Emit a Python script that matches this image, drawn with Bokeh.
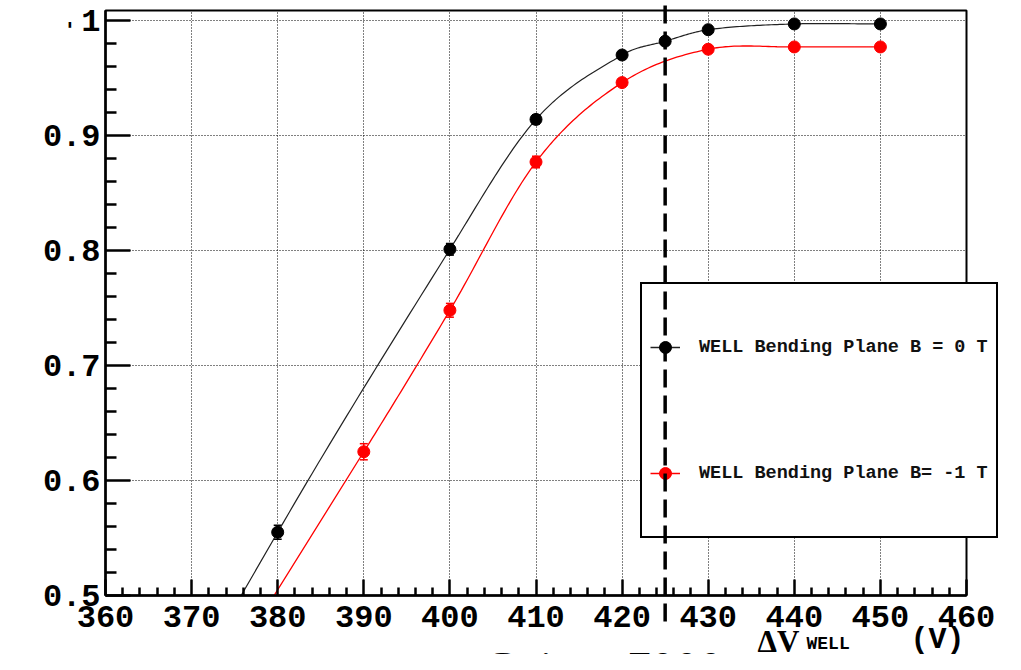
import numpy as np
from bokeh.plotting import figure
from bokeh.models import (Label, Legend, LegendItem, FixedTicker, Whisker,
                          ColumnDataSource, TeeHead, Range1d, GridBox)
from bokeh.embed import file_html
from bokeh.resources import INLINE

# ---- data ----
x_b0 = [380, 400, 410, 420, 425, 430, 440, 450]
y_b0 = [0.555, 0.801, 0.914, 0.970, 0.982, 0.992, 0.997, 0.997]
e_b0 = [0.006, 0.005, 0.004, 0.003, 0.003, 0.002, 0.002, 0.002]

x_b1 = [390, 400, 410, 420, 430, 440, 450]
y_b1 = [0.625, 0.748, 0.877, 0.946, 0.975, 0.977, 0.977]
e_b1 = [0.007, 0.006, 0.005, 0.003, 0.002, 0.002, 0.002]

label_b0 = "WELL Bending Plane B = 0 T"
label_b1 = "WELL Bending Plane B= -1 T"

x_ticks = [360, 370, 380, 390, 400, 410, 420, 430, 440, 450, 460]
y_ticks = [0.5, 0.6, 0.7, 0.8, 0.9, 1.0]
x_lim = (360, 460)
y_min = 0.5
marker_line = 425

MONO = "Liberation Mono"

# ---- layout geometry (pixels) ----
W, H = 1005, 654
FL, FR, FT, FB = 105, 966, 10, 595          # frame edges
PX_PER_Y = 1150.0                           # pixels per unit of y
PX_PER_X = (FR - FL) / (x_lim[1] - x_lim[0])
y_max = y_min + (FB - FT) / PX_PER_Y


def dx(px):
    return x_lim[0] + (px - FL) / PX_PER_X


def dy(py):
    return y_min + (FB - py) / PX_PER_Y


def smooth(xs, ys, y_floor=0.5, n=30):
    """Cubic Hermite path through the data points (line rendering only)."""
    xs = np.asarray(xs, float)
    ys = np.asarray(ys, float)
    k = len(xs)
    m = np.zeros(k)
    for i in range(1, k - 1):
        m[i] = (ys[i + 1] - ys[i - 1]) / (xs[i + 1] - xs[i - 1])
    d01 = (ys[1] - ys[0]) / (xs[1] - xs[0])
    d12 = (ys[2] - ys[1]) / (xs[2] - xs[1])
    dd = (d12 - d01) / (xs[2] - xs[0])
    m[0] = d01 + dd * (xs[0] - xs[1])
    m[-1] = (ys[-1] - ys[-2]) / (xs[-1] - xs[-2])
    px, py = [], []
    if m[0] > 0 and ys[0] > y_floor:
        px.append(xs[0] - (ys[0] - y_floor + 0.01) / m[0])
        py.append(y_floor - 0.01)
    for i in range(k - 1):
        h = xs[i + 1] - xs[i]
        t = np.linspace(0, 1, n, endpoint=False)
        h00 = 2 * t**3 - 3 * t**2 + 1
        h10 = t**3 - 2 * t**2 + t
        h01 = -2 * t**3 + 3 * t**2
        h11 = t**3 - t**2
        px.extend(xs[i] + t * h)
        py.extend(h00 * ys[i] + h10 * h * m[i] + h01 * ys[i + 1] + h11 * h * m[i + 1])
    px.append(xs[-1])
    py.append(ys[-1])
    return px, py


# ================= main plot =================
p = figure(width=W, height=H, x_range=x_lim, y_range=(y_min, y_max),
           output_backend="svg", toolbar_location=None,
           min_border_left=FL, min_border_right=W - FR, min_border_top=FT,
           min_border_bottom=H - FB)
p.background_fill_color = "white"
p.border_fill_color = "white"
p.outline_line_color = "black"
p.outline_line_width = 2

p.xgrid.ticker = FixedTicker(ticks=x_ticks)
p.ygrid.ticker = FixedTicker(ticks=y_ticks)
for g in (p.xgrid, p.ygrid):
    g.grid_line_color = "black"
    g.grid_line_dash = "1 2"
    g.grid_line_width = 1

x_minor = [float(v) for v in np.arange(360, 460.01, 2) if v not in x_ticks]
y_minor = [round(float(v), 3) for v in np.arange(0.5, 1.0001, 0.02)]
y_minor = [v for v in y_minor if round(v, 2) not in [round(t, 2) for t in y_ticks]]
p.xaxis.ticker = FixedTicker(ticks=x_ticks, minor_ticks=x_minor)
p.yaxis.ticker = FixedTicker(ticks=y_ticks, minor_ticks=y_minor)
p.yaxis.major_label_overrides = {0.5: "0.5", 0.6: "0.6", 0.7: "0.7",
                                 0.8: "0.8", 0.9: "0.9", 1.0: "1"}

for ax in (p.xaxis[0], p.yaxis[0]):
    ax.axis_line_color = "black"
    ax.axis_line_width = 2.5
    ax.major_tick_line_color = "black"
    ax.major_tick_line_width = 2.5
    ax.minor_tick_line_color = "black"
    ax.minor_tick_line_width = 2.5
    ax.major_tick_out = 0
    ax.minor_tick_out = 0
    ax.major_label_text_font = MONO
    ax.major_label_text_font_style = "bold"
    ax.major_label_text_font_size = "32px"
    ax.major_label_text_color = "black"

p.xaxis.major_tick_in = 16
p.xaxis.minor_tick_in = 8
p.yaxis.major_tick_in = 25
p.yaxis.minor_tick_in = 11
p.xaxis.major_label_standoff = 10
p.yaxis.major_label_standoff = 5

bx, by = smooth(x_b0, y_b0)
rx, ry = smooth(x_b1, y_b1)
p.line(bx, by, line_color="#222222", line_width=1.2)
p.line(rx, ry, line_color="red", line_width=1.3)

src_b = ColumnDataSource(dict(x=x_b0, y=y_b0,
                              lo=[y - e for y, e in zip(y_b0, e_b0)],
                              hi=[y + e for y, e in zip(y_b0, e_b0)]))
src_r = ColumnDataSource(dict(x=x_b1, y=y_b1,
                              lo=[y - e for y, e in zip(y_b1, e_b1)],
                              hi=[y + e for y, e in zip(y_b1, e_b1)]))
for src, col in ((src_b, "black"), (src_r, "red")):
    p.add_layout(Whisker(source=src, base="x", upper="hi", lower="lo",
                         line_color=col, line_width=1.5,
                         upper_head=TeeHead(size=8, line_color=col, line_width=1.5),
                         lower_head=TeeHead(size=8, line_color=col, line_width=1.5)))
p.scatter("x", "y", source=src_b, size=12, marker="circle",
          fill_color="black", line_color="black")
p.scatter("x", "y", source=src_r, size=12, marker="circle",
          fill_color="red", line_color="red")


def overlay():
    f = figure(width=W, height=H, x_range=Range1d(dx(0), dx(W)),
               y_range=Range1d(dy(H), dy(0)), x_axis_type=None, y_axis_type=None,
               output_backend="svg", toolbar_location=None, min_border=0)
    f.outline_line_color = None
    f.background_fill_color = None
    f.border_fill_color = None
    return f


# ================= transparent overlay 1: legend, titles =================
p2 = overlay()
# ================= transparent overlay 2: dashed marker line on top =================
p3 = overlay()
for fig in (p, p2, p3):
    try:
        fig.frame_align = False
    except Exception:
        pass

# legend proxies (not shown on the plot itself)
nan = [float("nan")]
lg_b = [p2.line(nan, nan, line_color="#222222", line_width=1.5),
        p2.scatter(nan, nan, marker="circle", fill_color="black", line_color="black")]
lg_r = [p2.line(nan, nan, line_color="red", line_width=1.5),
        p2.scatter(nan, nan, marker="circle", fill_color="red", line_color="red")]

legend = Legend(items=[LegendItem(label=label_b0, renderers=lg_b),
                       LegendItem(label=label_b1, renderers=lg_r)],
                location=(640, H - 538))
legend.label_text_font = MONO
legend.label_text_font_style = "bold"
legend.label_text_font_size = "18.5px"
legend.label_text_color = "#111111"
legend.glyph_width = 30
legend.glyph_height = 110
legend.label_height = 110
legend.label_standoff = 19
legend.spacing = 16
legend.padding = 8
legend.margin = 0
legend.border_line_color = "black"
legend.border_line_alpha = 1.0
legend.border_line_width = 2.5
legend.background_fill_color = "white"
legend.background_fill_alpha = 1.0
p2.add_layout(legend, "center")

# axis title and caption (bottom edge of the picture cuts the caption)
p2.add_layout(Label(x=dx(757), y=dy(641), text="ΔV", text_font="Liberation Serif",
                    text_font_style="bold", text_font_size="31px",
                    text_baseline="alphabetic", text_color="black"))
p2.add_layout(Label(x=dx(806), y=dy(643), text="WELL", text_font=MONO,
                    text_font_style="bold", text_font_size="18px",
                    text_baseline="alphabetic", text_color="black"))
p2.add_layout(Label(x=dx(910), y=dy(639), text="(V)", text_font=MONO,
                    text_font_style="bold", text_font_size="30px",
                    text_baseline="alphabetic", text_color="black"))
p2.add_layout(Label(x=dx(483), y=dy(668), text="Gain ~ 7000",
                    text_font="Liberation Serif", text_font_size="48px",
                    text_baseline="alphabetic", text_color="black"))
p2.add_layout(Label(x=dx(66), y=dy(30), text="'", text_font="DejaVu Sans",
                    text_font_style="bold", text_font_size="22px",
                    text_baseline="alphabetic", text_color="black"))

p3.segment(x0=[marker_line], y0=[dy(5)], x1=[marker_line], y1=[dy(625)],
           line_color="black", line_width=3.5, line_dash="18 8")

layout = GridBox(children=[(p, 0, 0), (p2, 0, 0), (p3, 0, 0)])

open("out.html", "w").write(file_html(layout, INLINE))
